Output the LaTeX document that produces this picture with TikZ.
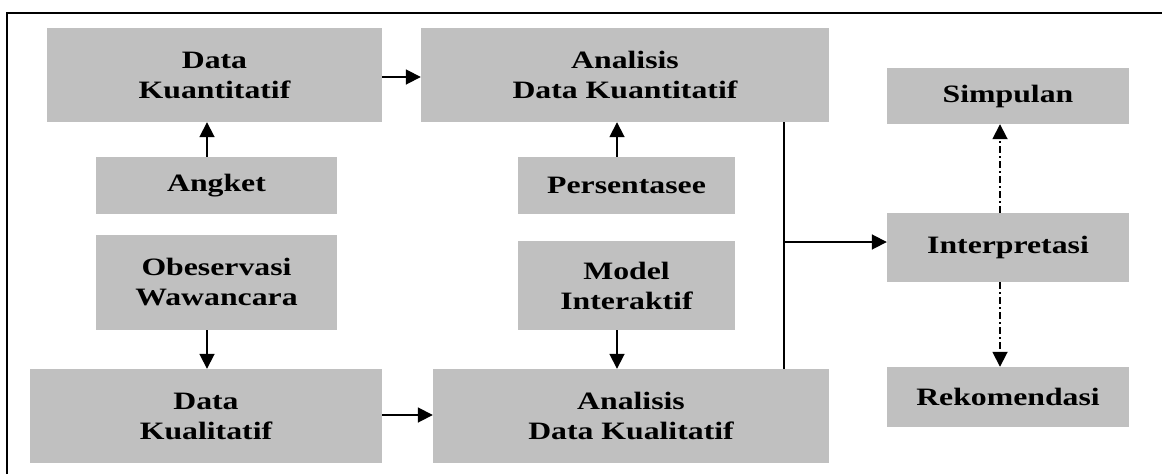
\documentclass[tikz,border=0pt]{standalone}
\usepackage{fontspec}
\setmainfont{Liberation Serif}
\newfontfamily\boxfont{Liberation Serif}[FakeStretch=1.27]
\usetikzlibrary{arrows.meta}
\definecolor{boxgray}{RGB}{192,192,192}
\tikzset{
  gbox/.style={fill=boxgray, draw=none, inner sep=0pt, align=center,
    font=\boxfont\bfseries\fontsize{25}{30}\selectfont},
  arr/.style={line width=1.8pt, -{Triangle[length=15pt,width=15pt]}},
  darr/.style={line width=1.8pt, dash pattern=on 7pt off 3pt on 2pt off 3pt, -{Triangle[length=15pt,width=15pt]}},
  conn/.style={line width=1.8pt}
}
\begin{document}
\begin{tikzpicture}[x=1pt,y=-1pt]
\useasboundingbox (0,0) rectangle (1162,474);
\draw[line width=2pt] (7,474) -- (7,13) -- (1162,13);

\node[gbox, minimum width=335pt, minimum height=94pt] (dk) at (214.5,75) {Data\\Kuantitatif};
\node[gbox, minimum width=241pt, minimum height=57pt] (ang) at (216.5,185.5) {Angket};
\node[gbox, minimum width=241pt, minimum height=95pt] (obs) at (216.5,282.5) {Obeservasi\\Wawancara};
\node[gbox, minimum width=352pt, minimum height=94pt] (dql) at (206,416) {Data\\Kualitatif};
\node[gbox, minimum width=408pt, minimum height=94pt] (adk) at (625,75) {Analisis\\Data Kuantitatif};
\node[gbox, minimum width=217pt, minimum height=57pt] (per) at (626.5,185.5) {Persentasee};
\node[gbox, minimum width=217pt, minimum height=89pt] (mod) at (626.5,285.5) {Model\\Interaktif};
\node[gbox, minimum width=396pt, minimum height=94pt] (adq) at (631,416) {Analisis\\Data Kualitatif};
\node[gbox, minimum width=242pt, minimum height=56pt] (sim) at (1008,96) {Simpulan};
\node[gbox, minimum width=242pt, minimum height=69pt] (int) at (1008,247.5) {Interpretasi};
\node[gbox, minimum width=242pt, minimum height=60pt] (rek) at (1008,397) {Rekomendasi};

\draw[arr] ([xshift=-9.5pt]ang.north) -- ([xshift=-9.5pt]ang.north |- dk.south);
\draw[arr] ([xshift=-9.5pt]obs.south) -- ([xshift=-9.5pt]obs.south |- dql.north);
\draw[arr] ([xshift=-9.5pt]per.north) -- ([xshift=-9.5pt]per.north |- adk.south);
\draw[arr] ([xshift=-9.5pt]mod.south) -- ([xshift=-9.5pt]mod.south |- adq.north);
\draw[arr] ([yshift=-2pt]dk.east) -- ([yshift=-2pt]dk.east -| adk.west);
\draw[arr] ([yshift=1pt]dql.east) -- ([yshift=1pt]dql.east -| adq.west);
\draw[conn] ([xshift=159pt]adk.south) -- ([xshift=159pt]adk.south |- adq.north);
\coordinate (j) at (784,242);
\draw[arr] (j) -- (j -| int.west);
\draw[darr] ([xshift=-8pt]int.north) -- ([xshift=-8pt]sim.south);
\draw[darr] ([xshift=-8pt]int.south) -- ([xshift=-8pt]rek.north);
\end{tikzpicture}
\end{document}
